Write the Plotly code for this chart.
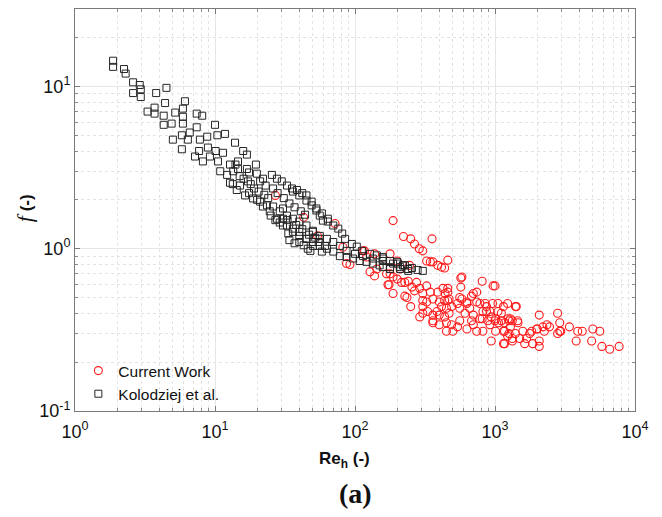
import plotly.graph_objects as go

# ---- Data ----
re_kol = [1.87, 1.87, 2.24, 2.3, 2.6, 2.9, 2.6, 2.95, 2.95, 3.8, 4.5, 3.3, 3.7, 3.7, 4.4, 4.3, 5.2, 5.9, 6.1, 7.4,
          8.1, 4.3, 4.9, 5.9, 5.9, 7.4, 6.6, 5.8, 5.0, 5.8, 6.4, 7.8, 8.8, 10, 10.4, 11.8, 13.9, 15.9, 7.2, 7.7,
          8.9, 10.1, 11.4, 8.2, 9.2, 10.5, 12.8, 14.6, 16.9, 19.6, 14.6, 16.9, 10.9, 12.2, 13.4, 15.1, 17.2, 19.9, 22, 25.5,
          27.7, 30, 32.7, 35.5, 38.5, 42, 45, 49, 53, 58, 64, 12.8, 14.3, 16.4, 18.7, 21, 23.5, 26, 29, 32.7,
          36, 40, 45, 50, 56, 61, 17.5, 20, 22, 24.6, 27.7, 30.6, 33.4, 36, 40, 45, 50, 58, 36, 40,
          45, 49, 53, 56, 59, 64, 70, 76, 81, 85, 95, 103, 112, 128, 143, 158, 178, 200, 220, 240,
          30.6, 30.6, 32.7, 36, 40, 45, 50, 56, 63, 70, 78, 87, 97, 108, 121, 134, 150, 178, 210, 240,
          50, 56, 63, 70, 78, 87, 100, 114, 134, 158, 187, 220, 158, 178, 202, 227, 255, 280, 305, 158,
          178, 210, 13.5, 15, 16, 18, 19, 20.5, 22.5, 24, 14, 17.5, 21, 23, 26, 28, 31, 34, 37, 41,
          44, 25, 27, 29, 33, 38, 42, 47, 52, 55, 34, 37, 40, 43, 46, 48]
f_kol = [14.4, 13.2, 12.8, 12.0, 10.6, 10.2, 9.1, 9.6, 8.6, 9.1, 9.8, 7.0, 7.4, 6.8, 7.9, 6.6, 6.9, 7.3, 8.1, 6.8,
         6.6, 5.8, 5.9, 6.5, 5.9, 5.6, 5.2, 5.0, 4.7, 4.1, 4.7, 4.7, 4.9, 5.8, 5.0, 5.1, 4.5, 4.0, 3.7, 4.0,
         4.2, 4.0, 3.9, 3.45, 3.7, 3.45, 3.3, 3.45, 3.8, 3.3, 3.1, 3.1, 3.0, 2.85, 2.5, 2.45, 2.6, 2.9, 2.7, 2.85,
         2.7, 2.6, 2.45, 2.35, 2.3, 2.2, 2.13, 1.95, 1.77, 1.65, 1.53, 2.55, 2.3, 2.13, 2.04, 1.95, 1.85, 1.82, 1.7, 1.6,
         1.53, 1.47, 1.39, 1.27, 1.15, 1.04, 2.2, 2.0, 1.82, 1.7, 1.53, 1.39, 1.24, 1.33, 1.27, 1.15, 1.04, 0.96, 2.25, 2.13,
         1.98, 1.85, 1.72, 1.6, 1.49, 1.47, 1.39, 1.33, 1.24, 1.15, 1.07, 1.03, 0.97, 0.93, 0.91, 0.89, 0.84, 0.83, 0.79, 0.75,
         1.77, 1.53, 1.39, 1.27, 1.2, 1.15, 1.1, 1.04, 1.0, 0.96, 0.9, 0.89, 0.87, 0.84, 0.83, 0.81, 0.79, 0.77, 0.75, 0.73,
         1.29, 1.2, 1.15, 1.1, 1.04, 0.97, 0.93, 0.9, 0.87, 0.84, 0.81, 0.79, 0.87, 0.84, 0.81, 0.79, 0.76, 0.74, 0.73, 0.77,
         0.75, 0.77, 3.0, 2.8, 2.7, 2.5, 2.35, 2.25, 2.15, 2.05, 3.3, 2.95, 2.6, 2.45, 2.35, 2.2, 2.05, 1.9, 1.8, 1.7,
         1.62, 1.6, 1.5, 1.45, 1.5, 1.4, 1.32, 1.22, 1.17, 1.1, 1.13, 1.08, 1.1, 1.05, 1.0, 0.97]

re_cur = [27, 43, 54, 72, 82, 87, 92, 114, 117, 138, 178, 121, 187, 222, 250, 266, 288, 305, 355, 200,
          128, 138, 143, 178, 172, 200, 227, 210, 325, 345, 360, 390, 415, 437, 460, 168, 187, 175, 187, 215,
          240, 255, 227, 235, 250, 275, 266, 290, 305, 325, 345, 325, 360, 305, 305, 330, 305, 360, 360, 390,
          425, 460, 460, 400, 437, 470, 415, 450, 490, 400, 437, 470, 450, 490, 570, 570, 560, 580, 680, 740,
          810, 1000, 540, 560, 630, 660, 610, 700, 780, 870, 960, 820, 920, 1050, 1150, 1230, 560, 680, 780, 890,
          1000, 1110, 1240, 245, 290, 385, 360, 400, 500, 450, 540, 630, 700, 740, 810, 820, 920, 940, 1010, 1060,
          1150, 1230, 1330, 1400, 1150, 1330, 1500, 1630, 1860, 2070, 2070, 1770, 2000, 2200, 2350, 2450, 1420, 2070, 2800, 2900,
          2900, 3400, 3900, 3800, 4200, 5000, 5600, 4900, 5800, 6600, 7700, 970, 580, 440, 460, 630, 700, 740, 850, 870,
          940, 1010, 1110, 1290, 1460, 1290, 1580, 1050, 1400, 2800, 2950, 1170, 1260, 1450, 1170, 1260, 1170, 1330, 1680, 1830,
          1990, 2250]
f_cur = [2.13, 1.56, 1.2, 1.43, 1.02, 0.81, 0.8, 0.97, 0.97, 0.93, 0.93, 0.89, 1.49, 1.19, 1.15, 1.07, 1.0, 0.97, 1.15, 0.84,
         0.72, 0.68, 0.75, 0.7, 0.6, 0.65, 0.62, 0.75, 0.84, 0.83, 0.83, 0.79, 0.77, 0.76, 0.85, 0.7, 0.67, 0.6, 0.53, 0.62,
         0.63, 0.58, 0.51, 0.5, 0.44, 0.62, 0.55, 0.57, 0.53, 0.59, 0.54, 0.47, 0.49, 0.48, 0.44, 0.41, 0.4, 0.39, 0.35, 0.54,
         0.57, 0.57, 0.54, 0.47, 0.48, 0.49, 0.44, 0.43, 0.44, 0.39, 0.38, 0.4, 0.35, 0.34, 0.66, 0.58, 0.5, 0.49, 0.51, 0.54,
         0.63, 0.59, 0.46, 0.43, 0.46, 0.43, 0.4, 0.39, 0.46, 0.44, 0.46, 0.41, 0.41, 0.41, 0.44, 0.46, 0.36, 0.36, 0.37, 0.36,
         0.36, 0.36, 0.37, 0.79, 0.38, 0.41, 0.36, 0.34, 0.31, 0.31, 0.33, 0.32, 0.34, 0.31, 0.37, 0.31, 0.34, 0.27, 0.31, 0.35,
         0.31, 0.29, 0.36, 0.30, 0.26, 0.28, 0.28, 0.26, 0.26, 0.25, 0.27, 0.30, 0.32, 0.33, 0.34, 0.33, 0.44, 0.39, 0.40, 0.35,
         0.31, 0.33, 0.31, 0.27, 0.31, 0.32, 0.31, 0.27, 0.25, 0.24, 0.25, 0.59, 0.67, 0.53, 0.48, 0.47, 0.53, 0.47, 0.46, 0.41,
         0.38, 0.37, 0.40, 0.37, 0.35, 0.33, 0.31, 0.46, 0.44, 0.30, 0.31, 0.35, 0.36, 0.36, 0.31, 0.30, 0.26, 0.27, 0.28, 0.31,
         0.32, 0.31]

series_names = ["Current Work", "Kolodziej et al."]
x_tick_vals = [1, 10, 100, 1000, 10000]
x_tick_text = ["10<sup>0</sup>", "10<sup>1</sup>", "10<sup>2</sup>", "10<sup>3</sup>", "10<sup>4</sup>"]
y_tick_vals = [0.1, 1, 10]
y_tick_text = ["10<sup>-1</sup>", "10<sup>0</sup>", "10<sup>1</sup>"]

FONT = "Arial, 'Liberation Sans', sans-serif"
SERIF = "'Liberation Serif', 'Times New Roman', serif"

fig = go.Figure()
fig.add_trace(go.Scatter(
    x=re_cur, y=f_cur, mode="markers", name=series_names[0],
    marker=dict(symbol="circle-open", size=8, color="#ff1a1a", line=dict(width=1.1, color="#ff1a1a")),
))
fig.add_trace(go.Scatter(
    x=re_kol, y=f_kol, mode="markers", name=series_names[1],
    marker=dict(symbol="square-open", size=7, color="#262626", line=dict(width=1, color="#262626")),
))

x_minor = [m * 10 ** k for k in range(0, 4) for m in range(2, 10)]
y_minor = [m * 10 ** k for k in range(-1, 2) for m in range(2, 10)]

axis_common = dict(
    type="log", showline=True, linecolor="#7a7a7a", linewidth=1, mirror="allticks",
    ticks="inside", ticklen=5, tickwidth=1, tickcolor="#7a7a7a",
    showgrid=True, gridcolor="#e6e6e6", gridwidth=1, zeroline=False,
    tickfont=dict(family=FONT, size=18, color="#111"),
)
minor_common = dict(ticks="inside", ticklen=3, tickcolor="#8a8a8a",
                    showgrid=True, gridcolor="#e3e3e3", griddash="dot", gridwidth=1)

fig.update_xaxes(**axis_common, range=[0, 4], tickmode="array", tickvals=x_tick_vals, ticktext=x_tick_text,
                 ticklabelstandoff=4, minor=dict(tickvals=x_minor, **minor_common))
fig.update_yaxes(**axis_common, range=[-1, 1.4771], tickmode="array", tickvals=y_tick_vals, ticktext=y_tick_text,
                 minor=dict(tickvals=y_minor, **minor_common))

fig.add_annotation(text="<b>Re<sub>h</sub> (-)</b>", xref="paper", yref="paper", x=0.482, y=-0.122,
                   showarrow=False, font=dict(family=FONT, size=17, color="#111"), xanchor="center", yanchor="middle")
fig.add_annotation(text="<span style='font-family:" + SERIF.replace("'", "") + ";font-size:22px'><i>f</i></span><b> (-)</b>",
                   xref="paper", yref="paper", x=-0.089, y=0.505, textangle=-90,
                   showarrow=False, font=dict(family=FONT, size=17, color="#111"), xanchor="center", yanchor="middle")
fig.add_annotation(text="<b>(a)</b>", xref="paper", yref="paper", x=0.5, y=-0.204,
                   showarrow=False, font=dict(family=SERIF, size=28, color="#111"),
                   xanchor="center", yanchor="middle")

fig.update_layout(
    width=662, height=517,
    margin=dict(l=75, r=27, t=9, b=106),
    paper_bgcolor="white", plot_bgcolor="white",
    showlegend=True,
    legend=dict(x=0.006, y=0.0, xanchor="left", yanchor="bottom", bgcolor="rgba(0,0,0,0)",
                font=dict(family=FONT, size=15.5, color="#111"), itemwidth=30, tracegroupgap=0),
)

fig.write_html("out.html")
